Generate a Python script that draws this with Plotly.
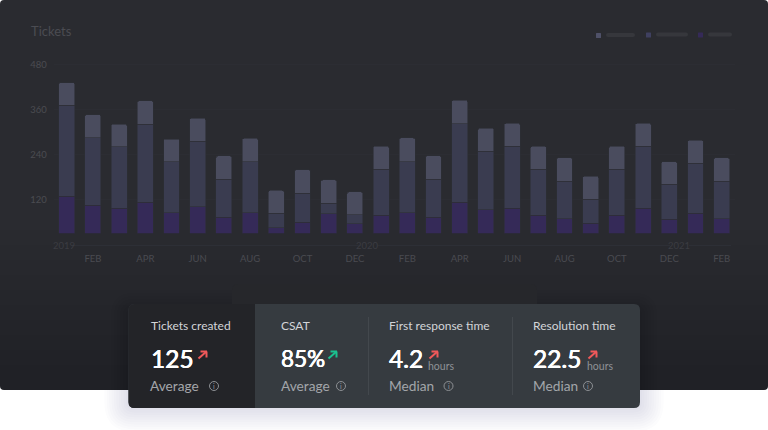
import plotly.graph_objects as go

W, H = 768, 430
months = ["JAN","FEB","MAR","APR","MAY","JUN","JUL","AUG","SEP","OCT","NOV","DEC"]
categories = [f"{m} {y}" for y in (2019, 2020) for m in months] + ["JAN 2021", "FEB 2021"]
low = [128,104,96,112,85,100,72,85,45,59,82,55,78,85,72,112,92,96,78,69,56,78,96,67,83,69]
mid = [243,181,164,208,135,175,102,136,38,78,28,24,122,136,102,210,156,166,122,100,64,122,166,93,133,99]
high = [61,61,61,63,61,62,62,62,61,62,62,61,62,63,62,63,62,61,62,62,62,62,61,61,62,63]
tick_vals = [120, 240, 360, 480]
month_ticks = categories[1::2]
month_labels = [c.split()[0] for c in month_ticks]
year_labels = ["2019", "2020", "2021"]
year_pos = [63.5, 367, 679]
cards = [
    dict(title="Tickets created", value="125", vsize=24.5, unit="", stat="Average", x=151, sx=150, up="#f0595a", ax=198, info=214, ux=0),
    dict(title="CSAT", value="85%", vsize=22.5, unit="", stat="Average", x=281, sx=281, up="#1bc18f", ax=328, info=341, ux=0),
    dict(title="First response time", value="4.2", vsize=24.5, unit="hours", stat="Median", x=389, sx=389, up="#f0595a", ax=429, info=448.5, ux=428),
    dict(title="Resolution time", value="22.5", vsize=24.5, unit="hours", stat="Median", x=533, sx=533, up="#f0595a", ax=588, info=588, ux=587),
]

FONT = "Lato"
def px(x): return x / W
def py(y): return 1 - y / H

def rrect(x0, y0, x1, y1, r=6, top=True, bottom=True, left=True, right=True):
    tl = r if (top and left) else 0
    tr = r if (top and right) else 0
    br = r if (bottom and right) else 0
    bl = r if (bottom and left) else 0
    pts = [f"M{px(x0+tl)},{py(y0)}", f"L{px(x1-tr)},{py(y0)}"]
    if tr: pts.append(f"Q{px(x1)},{py(y0)} {px(x1)},{py(y0+tr)}")
    pts.append(f"L{px(x1)},{py(y1-br)}")
    if br: pts.append(f"Q{px(x1)},{py(y1)} {px(x1-br)},{py(y1)}")
    pts.append(f"L{px(x0+bl)},{py(y1)}")
    if bl: pts.append(f"Q{px(x0)},{py(y1)} {px(x0)},{py(y1-bl)}")
    pts.append(f"L{px(x0)},{py(y0+tl)}")
    if tl: pts.append(f"Q{px(x0)},{py(y0)} {px(x0+tl)},{py(y0)}")
    return " ".join(pts) + " Z"

shapes = []
def path(d, fill, layer="below", opacity=1):
    shapes.append(dict(type="path", path=d, xref="paper", yref="paper", fillcolor=fill,
                       line=dict(width=0), layer=layer, opacity=opacity))
def seg(x0, y0, x1, y1, color, width=1, layer="above"):
    shapes.append(dict(type="line", xref="paper", yref="paper", x0=px(x0), y0=py(y0), x1=px(x1), y1=py(y1),
                       line=dict(color=color, width=width), layer=layer))

# card shadow on the white page
for i in range(10):
    g = 2 + i * 2.4
    path(rrect(128 - g, 312 - g, 640 + g, 408 + g, r=6 + g), "#5a5f70", opacity=0.014)

# panel with a soft vertical darkening
path(rrect(0, 0, 768, 390, r=4), "#2a2b30")
for i in range(10):
    y0 = 230 + i * 15
    path(rrect(0, y0, 768, 390, r=4, top=False), "#000000", opacity=0.007)

# shadow over the panel
for i in range(6):
    g = 2 + i * 3
    path(rrect(128 - g, 310 - g, 640 + g, 390, r=6 + g, bottom=False), "#000000", opacity=0.012)

# darker card peeking behind
path(rrect(232, 284, 537, 310, r=6, bottom=False), "#26272b")

# main card
path(rrect(128.5, 304, 640, 408, r=6), "#363b40", layer="above")
path(rrect(128.5, 304, 255, 408, r=6, right=False), "#232428", layer="above")
seg(368.5, 317, 368.5, 395, "#43484d")
seg(512.5, 317, 512.5, 395, "#43484d")

# year rule
seg(73, 245.6, 361, 245.6, "#2f3038", 1, "below")
seg(378, 245.6, 670, 245.6, "#2f3038", 1, "below")
seg(689, 245.6, 731, 245.6, "#2f3038", 1, "below")

# legend placeholders
for sx, sy, bx0, bx1, by, col in [(596, 33, 606, 635, 33, "#4f5168"), (646, 32.5, 656, 688, 32.5, "#3f4060"), (698, 32.5, 708, 732, 32.5, "#352a58")]:
    path(rrect(sx, sy, sx + 5, sy + 5, r=0.5), col)
    path(rrect(bx0, by, bx1, by + 4, r=2), "#36373c")

annotations = [dict(text="Tickets", x=px(29), y=py(31), xref="paper", yref="paper", xanchor="left", yanchor="middle",
                    showarrow=False, font=dict(family=FONT, size=13, color="#4b4c52"))]
for t, xp in zip(year_labels, year_pos):
    annotations.append(dict(text=t, x=px(xp), y=py(245.5), xref="paper", yref="paper", xanchor="center", yanchor="middle",
                            showarrow=False, font=dict(family=FONT, size=9.5, color="#3b3c42")))

def text(t, x, y, size, color, shadow=None):
    font = dict(family=FONT, size=size, color=color)
    if shadow:
        font["shadow"] = shadow
    annotations.append(dict(text=t, x=px(x - 2), y=py(y), xref="paper", yref="paper", xanchor="left", yanchor="middle",
                            showarrow=False, font=font))

for c in cards:
    text(c["title"], c["x"], 325.5, 12, "#d3d5d8")
    text(c["value"], c["x"] - 0.5, 358.5, c["vsize"], "#ffffff", "0.35px 0 0 #ffffff, -0.35px 0 0 #ffffff")
    text(c["stat"], c["sx"], 385, 13.7, "#a3a6aa")
    if c["unit"]:
        text(c["unit"], c["ux"], 365.5, 10.5, "#8f9296")
    a = c["ax"]
    seg(a + 0.5, 358.5, a + 8.5, 351.5, c["up"], 2)
    seg(a + 2.5, 351.5, a + 9, 351.5, c["up"], 2)
    seg(a + 8.5, 351.5, a + 8.5, 357.5, c["up"], 2)
    i = c["info"]
    shapes.append(dict(type="circle", xref="paper", yref="paper", x0=px(i - 4.5), x1=px(i + 4.5), y0=py(390.5), y1=py(381.5),
                       line=dict(color="#8c8f93", width=1), layer="above"))
    annotations.append(dict(text="i", x=px(i), y=py(386), xref="paper", yref="paper", xanchor="center", yanchor="middle",
                            showarrow=False, font=dict(family=FONT, size=7, color="#9a9da1")))

fig = go.Figure()
for name, vals, col in [("Low", low, "#352a58"), ("Mid", mid, "#3a3c50"), ("High", high, "#4a4c5e")]:
    fig.add_bar(x=categories, y=vals, name=name, marker=dict(color=col, line=dict(color="#2d2e36", width=0.6)),
                showlegend=False, hoverinfo="skip")
# month labels sit on their own slightly tighter axis
fig.add_scatter(x=categories, y=[None] * len(categories), xaxis="x2", showlegend=False, hoverinfo="skip", mode="markers")

fig.update_layout(
    width=W, height=H, autosize=False, barmode="stack", bargap=0.39, barcornerradius=2,
    margin=dict(l=0, r=0, t=0, b=0, pad=0, autoexpand=False), paper_bgcolor="#ffffff", plot_bgcolor="rgba(0,0,0,0)",
    shapes=shapes, annotations=annotations, font=dict(family=FONT),
    xaxis=dict(domain=[53.6 / W, 734.8 / W], type="category", categoryorder="array", categoryarray=categories,
               range=[-0.5, 25.5], showticklabels=False, ticks="", showgrid=False, zeroline=False, showline=False),
    xaxis2=dict(domain=[54.06 / W, 729 / W], type="category", categoryorder="array", categoryarray=categories,
                overlaying="x", anchor="y", side="bottom",
                range=[-0.5, 25.5], tickmode="array", tickvals=month_ticks, ticktext=month_labels,
                showgrid=False, zeroline=False, showline=False, ticks="outside", ticklen=16, tickcolor="rgba(0,0,0,0)",
                tickfont=dict(family=FONT, size=9.5, color="#4a4b51")),
    yaxis=dict(domain=[1 - 233.3 / H, 1 - 60 / H], range=[29.8, 492], tickmode="array", tickvals=tick_vals,
               showgrid=True, gridcolor="#2c2d33", gridwidth=1, zeroline=False, showline=False,
               ticks="outside", ticklen=4, tickcolor="rgba(0,0,0,0)",
               tickfont=dict(family=FONT, size=9.5, color="#4a4b51")),
)
fig.write_html("out.html", config=dict(displayModeBar=False), post_script="document.body.style.margin='0';")
